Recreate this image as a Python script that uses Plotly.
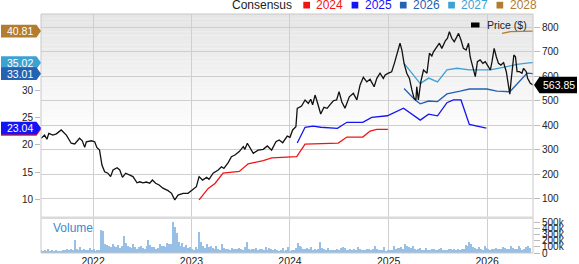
import plotly.graph_objects as go
import pandas as pd

# ---------------- data ----------------
price_dates = [
    "2021-06-23","2021-07-05","2021-07-14","2021-07-21","2021-08-05","2021-08-18","2021-09-05","2021-09-24",
    "2021-10-12","2021-10-25","2021-11-12","2021-11-22","2021-12-01","2021-12-07","2021-12-26","2022-01-07",
    "2022-01-15","2022-01-25","2022-02-03","2022-02-13","2022-02-25","2022-03-07","2022-03-16","2022-03-31",
    "2022-04-10","2022-04-20","2022-05-02","2022-05-17","2022-05-29","2022-06-13","2022-06-23","2022-07-05",
    "2022-07-18","2022-07-30","2022-08-09","2022-08-21","2022-09-03","2022-09-17","2022-10-06","2022-10-19",
    "2022-10-31","2022-11-12","2022-12-01","2022-12-19","2023-01-07","2023-01-19","2023-01-29","2023-02-11",
    "2023-02-26","2023-03-07","2023-03-22","2023-04-10","2023-04-22","2023-05-01","2023-05-17","2023-05-29",
    "2023-06-11","2023-06-27","2023-07-12","2023-07-18","2023-07-27","2023-08-06","2023-08-18","2023-09-05",
    "2023-09-24","2023-10-09","2023-10-25","2023-11-10","2023-11-22","2023-12-05","2023-12-22","2024-01-01",
    "2024-01-11","2024-01-23","2024-01-28","2024-02-13","2024-02-26","2024-03-09","2024-03-18","2024-03-25",
    "2024-04-03","2024-04-09","2024-04-24","2024-05-06","2024-05-18","2024-05-28","2024-06-10","2024-06-22",
    "2024-07-01","2024-07-11","2024-07-23","2024-08-08","2024-08-23","2024-09-05","2024-09-17","2024-09-29",
    "2024-10-12","2024-10-24","2024-11-08","2024-11-18","2024-11-30","2024-12-12","2024-12-19","2024-12-31",
    "2025-01-12","2025-01-22","2025-02-02","2025-02-12","2025-02-19","2025-02-27","2025-03-09","2025-03-19",
    "2025-03-28","2025-04-05","2025-04-12","2025-04-15","2025-04-21","2025-04-30","2025-05-10","2025-05-23",
    "2025-06-01","2025-06-10","2025-06-16","2025-06-29","2025-07-08","2025-07-17","2025-07-30","2025-08-07",
    "2025-08-14","2025-08-23","2025-09-01","2025-09-11","2025-09-17","2025-09-26","2025-10-05","2025-10-15",
    "2025-10-24","2025-10-30","2025-11-09","2025-11-18","2025-11-26","2025-12-06","2025-12-16","2025-12-25",
    "2026-01-02","2026-01-13","2026-01-19","2026-01-27","2026-02-04","2026-02-12","2026-02-21","2026-03-03",
    "2026-03-13","2026-03-22","2026-03-26","2026-03-31","2026-04-10","2026-04-16","2026-04-22","2026-05-01",
    "2026-05-10","2026-05-16","2026-05-26","2026-05-31","2026-06-10","2026-06-20",
]
price_values = [
    347,360,343,367,360,365,381,360,
    327,324,347,337,310,333,337,333,
    310,299,238,211,205,191,218,227,
    218,188,205,198,191,166,170,166,
    169,164,177,164,157,144,134,123,
    96,116,123,123,139,150,191,177,
    188,180,205,218,231,225,248,272,
    279,293,313,302,327,306,286,299,
    302,316,299,333,340,329,356,351,
    381,394,469,478,503,489,506,483,
    523,503,446,473,469,483,500,503,
    537,496,469,516,530,503,564,595,
    577,587,557,591,612,591,605,612,
    618,652,693,734,706,652,612,591,
    544,510,503,557,503,577,625,612,
    693,682,699,720,734,713,744,754,
    781,754,740,761,774,747,713,706,
    734,679,638,598,659,666,652,659,
    645,625,659,713,679,652,645,655,
    618,564,527,584,686,679,618,618,
    612,632,618,591,571,563.85,
]

eps2024_dates = ["2023-01-29","2023-03-04","2023-03-29","2023-04-28","2023-06-27","2023-07-30","2023-09-24",
                 "2023-10-25","2024-01-26","2024-02-26","2024-06-28","2024-07-30","2024-09-27","2024-10-24",
                 "2024-11-18","2024-12-29"]
eps2024 = [9.9,12.0,12.9,14.8,15.1,16.5,17.1,17.6,17.8,20.1,20.3,21.4,21.4,22.5,22.8,22.8]

eps2025_dates = ["2024-01-28","2024-02-26","2024-03-27","2024-04-24","2024-06-25","2024-07-30","2024-09-27",
                 "2024-10-30","2024-12-27","2025-02-25","2025-04-28","2025-05-29","2025-07-01","2025-08-05",
                 "2025-08-29","2025-09-26","2025-10-27","2025-12-29"]
eps2025 = [20.3,23.2,23.4,23.2,23.0,24.1,24.1,25.0,25.3,26.7,24.5,25.6,25.3,27.7,28.2,28.2,23.7,23.04]

eps2026_dates = ["2025-02-27","2025-04-09","2025-04-28","2025-05-29","2025-07-01","2025-08-05","2025-09-23",
                 "2025-10-27","2025-12-31","2026-02-06","2026-03-26","2026-05-29","2026-06-20"]
eps2026 = [30.3,28.2,27.5,28.0,27.9,29.3,29.8,30.2,30.2,29.8,29.7,33.1,33.01]

eps2027_dates = ["2025-02-27","2025-04-28","2025-05-29","2025-07-01","2025-08-05","2025-09-11","2025-10-27",
                 "2026-01-13","2026-03-15","2026-04-22","2026-06-04","2026-06-20"]
eps2027 = [34.9,31.2,32.2,31.5,33.7,34.0,33.7,33.7,34.3,34.7,35.0,35.02]

eps2028_dates = ["2026-02-25","2026-03-28","2026-06-20"]
eps2028 = [40.4,40.7,40.81]

volume_start = "2021-06-22"
volume_k = [
    55,40,60,45,70,35,50,45,55,40,
    45,40,60,50,75,55,80,60,215,70,
    60,110,55,80,55,60,90,50,70,45,
    55,60,375,370,160,140,120,110,150,130,
    100,140,90,120,280,170,120,110,90,150,
    110,80,100,120,90,70,130,215,140,110,
    100,80,90,160,130,120,110,170,150,160,
    520,425,330,180,120,170,100,140,90,110,
    70,60,100,80,350,180,120,90,150,110,
    130,90,70,120,80,60,150,90,70,80,
    60,90,70,80,75,90,70,60,100,188,
    70,60,80,70,90,60,70,80,60,110,
    60,90,70,50,75,60,40,60,90,45,
    60,108,40,60,50,90,170,120,100,80,
    80,90,70,100,50,70,60,80,188,90,
    70,60,90,60,50,60,60,70,60,90,
    110,90,60,50,80,60,70,60,100,70,
    60,65,55,80,75,50,70,120,80,60,
    60,55,100,40,50,50,60,130,80,90,
    90,100,80,160,120,100,90,120,80,60,
    70,90,60,50,90,60,60,70,80,60,
    60,70,90,55,60,50,70,80,60,70,
    60,70,65,75,80,140,120,188,150,110,
    90,80,100,80,60,130,90,70,60,80,
    70,90,80,70,80,100,90,70,80,115,
    90,80,70,115,90,60,80,100,120,90,
]

series_names = ["2024", "2025", "2026", "2027", "2028"]
series_colors = ["#f01414", "#1414f5", "#2462b2", "#3ca2d4", "#b37c2e"]
eps_dates = [eps2024_dates, eps2025_dates, eps2026_dates, eps2027_dates, eps2028_dates]
eps_vals = [eps2024, eps2025, eps2026, eps2027, eps2028]

left_ticks = [10, 15, 20, 25, 30]
price_ticks = [100, 200, 300, 400, 500, 600, 700, 800]
volume_ticks = [0, 100, 200, 300, 400, 500]
volume_ticktext = ["0", "100k", "200k", "300k", "400k", "500k"]

# ---------------- layout geometry ----------------
WIDTH, HEIGHT = 579, 264
L, R, T, B = 41, 533, 14, 253
PW, PH = R - L, B - T
FONT = "Liberation Sans, Arial, sans-serif"


def fx(px):
    return (px - L) / PW


def fy(py):
    return (B - py) / PH


main_dom = [fy(217), 1.0]
vol_dom = [0.0, fy(218.5)]

fig = go.Figure()

for name, color, d, v in zip(series_names, series_colors, eps_dates, eps_vals):
    fig.add_trace(go.Scatter(x=pd.to_datetime(d), y=v, mode="lines", name=name,
                             line=dict(color=color, width=1.3), yaxis="y", hoverinfo="skip"))

fig.add_trace(go.Scatter(x=pd.to_datetime(price_dates), y=price_values, mode="lines", name="Price ($)",
                         line=dict(color="#111111", width=1.3), yaxis="y2"))

vol_dates = pd.date_range(volume_start, periods=len(volume_k), freq="7D")
fig.add_trace(go.Bar(x=vol_dates, y=volume_k, marker=dict(color="#98c0e6", line=dict(width=0)),
                     width=5 * 86400000, yaxis="y3", name="Volume"))

shapes = []
# background gradient of the price panel
n_bands = 28
top_px, fade_px = 14, 135
for i in range(n_bands):
    y0p = top_px + (fade_px - top_px) * i / n_bands
    y1p = top_px + (fade_px - top_px) * (i + 1) / n_bands
    g = int(229 + (255 - 229) * (i + 0.5) / n_bands)
    shapes.append(dict(type="rect", xref="paper", yref="paper", x0=0, x1=1, y0=fy(y1p), y1=fy(y0p),
                       fillcolor=f"rgb({g},{g},{g})", line=dict(width=0), layer="below"))
# frame and panel separator
shapes.append(dict(type="rect", xref="paper", yref="paper", x0=0, x1=1, y0=0, y1=1,
                   line=dict(color="#c8c8c8", width=1), layer="above"))
shapes.append(dict(type="line", xref="paper", yref="paper", x0=0, x1=1, y0=fy(217.8), y1=fy(217.8),
                   line=dict(color="#dadada", width=2.5), layer="above"))

annotations = []
# left EPS badges (2024 is hidden under 2025)
badge_order = [0, 1, 3, 2, 4]
for k in badge_order:
    last = eps_vals[k][-1]
    shapes.append(dict(type="path", xref="paper", yref="y", xsizemode="pixel", ysizemode="pixel",
                       xanchor=0, yanchor=last,
                       path="M-40,-6.4 L-4.5,-6.4 L0,0 L-4.5,6.4 L-40,6.4 Z",
                       fillcolor=series_colors[k], line=dict(width=0), layer="above"))
for k in badge_order[1:]:
    last = eps_vals[k][-1]
    annotations.append(dict(xref="paper", yref="y", x=fx(19.5), y=last, text=f"{last:.2f}",
                            showarrow=False, font=dict(family=FONT, size=10.5, color="white"),
                            xanchor="center", yanchor="middle"))

# price badge on the right
last_price = price_values[-1]
shapes.append(dict(type="path", xref="paper", yref="y2", xsizemode="pixel", ysizemode="pixel",
                   xanchor=1, yanchor=last_price,
                   path="M1,0 L6.5,8.3 L44,8.3 L44,-8.3 L6.5,-8.3 Z",
                   fillcolor="#000000", line=dict(width=0), layer="above"))
annotations.append(dict(xref="paper", yref="y2", x=fx(558.5), y=last_price, text=f"{last_price:.2f}",
                        showarrow=False, font=dict(family=FONT, size=10.5, color="white"),
                        xanchor="center", yanchor="middle"))

# top legend
annotations.append(dict(xref="paper", yref="paper", x=fx(293.5), y=fy(5.5), text="Consensus",
                        showarrow=False, font=dict(family=FONT, size=12, color="#222222"),
                        xanchor="right", yanchor="middle"))
for k, (name, color) in enumerate(zip(series_names, series_colors)):
    sx = 303.3 + 48.3 * k
    shapes.append(dict(type="rect", xref="paper", yref="paper", x0=fx(sx), x1=fx(sx + 6.7),
                       y0=fy(8.5), y1=fy(1.8), fillcolor=color, line=dict(width=0)))
    annotations.append(dict(xref="paper", yref="paper", x=fx(sx + 11), y=fy(5.5), text=name,
                            showarrow=False, font=dict(family=FONT, size=12, color=color),
                            xanchor="left", yanchor="middle"))

# price legend inside the plot
shapes.append(dict(type="rect", xref="paper", yref="paper", x0=fx(471), x1=fx(479.5),
                   y0=fy(27.5), y1=fy(22.5), fillcolor="#000000", line=dict(width=0), layer="above"))
annotations.append(dict(xref="paper", yref="paper", x=fx(484.5), y=fy(25), text="Price ($)",
                        showarrow=False, font=dict(family=FONT, size=10.5, color="#222222"),
                        xanchor="left", yanchor="middle"))

# volume label
annotations.append(dict(xref="paper", yref="paper", x=fx(50.5), y=fy(228.3), text="Volume",
                        showarrow=False, font=dict(family=FONT, size=12, color="#3d8ad0"),
                        xanchor="left", yanchor="middle"))

tickfont = dict(family=FONT, size=10, color="#222222")

fig.update_layout(
    width=WIDTH, height=HEIGHT,
    margin=dict(l=L, r=WIDTH - R, t=T, b=HEIGHT - B, pad=0, autoexpand=False),
    paper_bgcolor="white", plot_bgcolor="white",
    showlegend=False,
    bargap=0,
    shapes=shapes,
    annotations=annotations,
    xaxis=dict(type="date", range=["2021-06-22", "2026-06-20"], anchor="y3", automargin=False,
               tick0="2022-01-01", dtick="M12", tickformat="%Y",
               showgrid=True, gridcolor="#cfcfcf", gridwidth=1, ticks="",
               showline=False, zeroline=False,
               tickfont=dict(family=FONT, size=10.5, color="#222222")),
    yaxis=dict(domain=main_dom, range=[6.76, 43.94], side="left", tickvals=left_ticks, automargin=False,
               showgrid=False, zeroline=False, showline=False,
               ticks="outside", ticklen=5, tickcolor="#bbbbbb", tickfont=tickfont),
    yaxis2=dict(overlaying="y", side="right", range=[26.7, 852.9], tickvals=price_ticks, automargin=False,
                showgrid=True, gridcolor="#cfcfcf", gridwidth=1, zeroline=False, showline=False,
                ticks="outside", ticklen=6, tickcolor="#bbbbbb", tickfont=tickfont),
    yaxis3=dict(domain=vol_dom, range=[0, 562], side="right", anchor="x", automargin=False,
                tickvals=volume_ticks, ticktext=volume_ticktext,
                showgrid=False, zeroline=False, showline=False,
                ticks="outside", ticklen=6, tickcolor="#bbbbbb", tickfont=tickfont),
)

fig.write_html("out.html")
